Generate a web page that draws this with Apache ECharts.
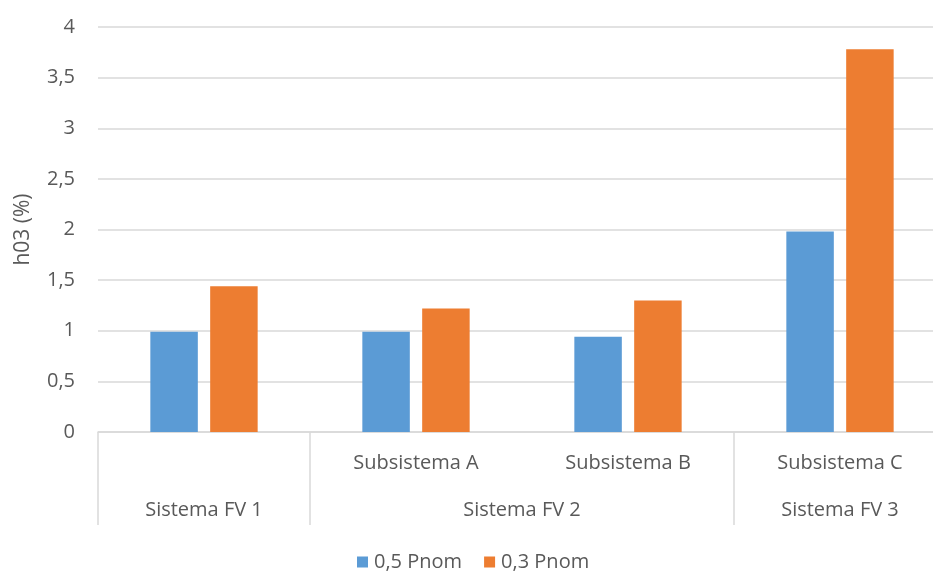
<!DOCTYPE html>
<html>
<head>
<meta charset="utf-8">
<script src="https://cdn.jsdelivr.net/npm/echarts@6/dist/echarts.min.js"></script>
<style>
  html, body { margin: 0; padding: 0; background: #ffffff; overflow: hidden; }
  #chart { width: 946px; height: 572px; }
</style>
</head>
<body>
<div id="chart"></div>
<script>
// Inner categories (first level of the x axis)
const subCategories = ['', 'Subsistema A', 'Subsistema B', 'Subsistema C'];
// Outer groups and how many inner categories each spans
const groupNames = ['Sistema FV 1', 'Sistema FV 2', 'Sistema FV 3'];
const groupSpans = [1, 2, 1];
// Series
const seriesNames = ['0,5 Pnom', '0,3 Pnom'];
const halfPnom = [0.99, 0.99, 0.94, 1.98];
const thirdPnom = [1.44, 1.22, 1.30, 3.78];
// Value axis
const yMin = 0, yMax = 4, yStep = 0.5;
const yTitle = 'h03 (%)';

const FONT = '"Open Sans", sans-serif';
const TEXT = '#595959';
const GRID_LINE = '#d9d9d9';

// first category index of each group
const groupStarts = [];
groupSpans.reduce((acc, s) => { groupStarts.push(acc); return acc + s; }, 0);

const chart = echarts.init(document.getElementById('chart'), null, { renderer: 'canvas' });

chart.setOption({
  animation: false,
  backgroundColor: '#ffffff',
  textStyle: { fontFamily: FONT, color: TEXT },
  grid: { left: 98, right: 0, top: 27, bottom: 140, containLabel: false },
  legend: {
    data: seriesNames,
    top: 547,
    left: 352,
    itemWidth: 11,
    itemHeight: 11,
    itemGap: 22,
    icon: 'rect',
    textStyle: { fontFamily: FONT, fontSize: 20, color: TEXT, padding: [0, 0, 0, 1] }
  },
  xAxis: {
    type: 'category',
    data: subCategories,
    axisLine: { show: true, lineStyle: { color: GRID_LINE, width: 1.5 } },
    axisTick: {
      show: true,
      length: 93,
      interval: (index) => groupStarts.includes(index),
      lineStyle: { color: GRID_LINE, width: 1.5 }
    },
    axisLabel: { interval: 0, margin: 21, fontFamily: FONT, fontSize: 20, color: TEXT }
  },
  yAxis: {
    type: 'value',
    min: yMin,
    max: yMax,
    interval: yStep,
    name: yTitle,
    nameLocation: 'middle',
    nameGap: 64,
    nameTextStyle: { fontFamily: FONT, fontSize: 21, color: TEXT },
    axisLine: { show: false },
    axisTick: { show: false },
    axisLabel: {
      margin: 23,
      fontFamily: FONT,
      fontSize: 20,
      color: TEXT,
      formatter: (v) => String(v).replace('.', ',')
    },
    splitLine: { lineStyle: { color: GRID_LINE, width: 1.5 } }
  },
  series: [
    {
      name: seriesNames[0],
      type: 'bar',
      data: halfPnom,
      barWidth: '22.4%',
      barGap: '26%',
      itemStyle: { color: '#5B9BD5' }
    },
    {
      name: seriesNames[1],
      type: 'bar',
      data: thirdPnom,
      barWidth: '22.4%',
      barGap: '26%',
      itemStyle: { color: '#ED7D31' }
    }
  ]
});

// Outer group labels, centred under the categories each group spans
const baseY = chart.convertToPixel({ yAxisIndex: 0 }, yMin);
const groupLabels = groupNames.map((name, i) => {
  const first = chart.convertToPixel({ xAxisIndex: 0 }, groupStarts[i]);
  const last = chart.convertToPixel({ xAxisIndex: 0 }, groupStarts[i] + groupSpans[i] - 1);
  return {
    type: 'text',
    x: (first + last) / 2,
    y: baseY + 78,
    style: {
      text: name,
      fontFamily: FONT,
      fontSize: 20,
      fill: TEXT,
      align: 'center',
      verticalAlign: 'middle'
    }
  };
});
chart.setOption({ graphic: groupLabels });
</script>
</body>
</html>
